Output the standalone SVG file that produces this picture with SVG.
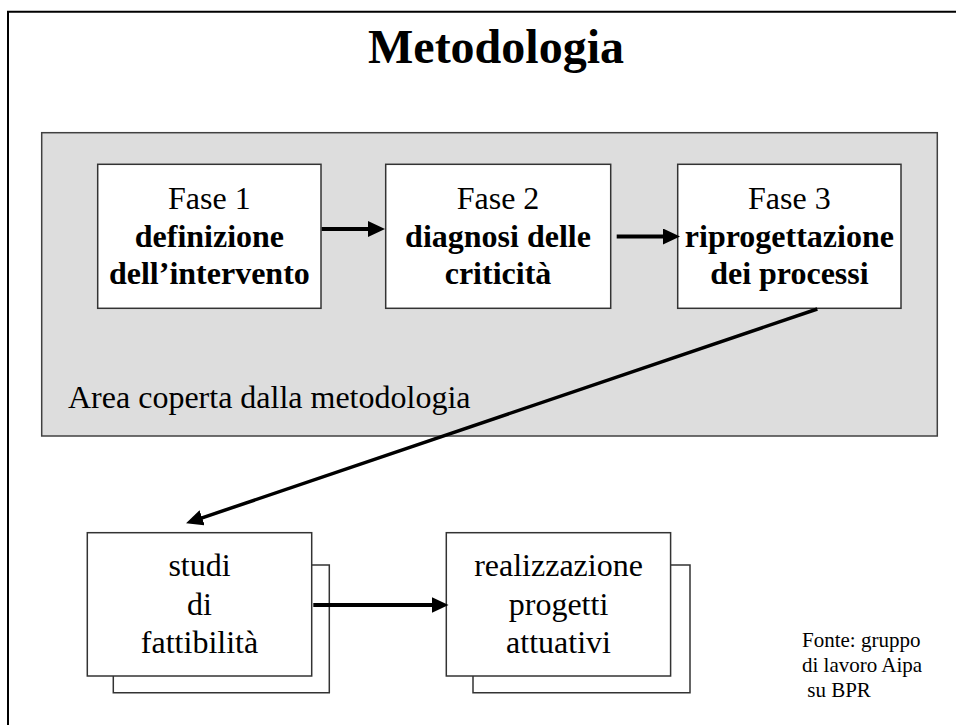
<svg xmlns="http://www.w3.org/2000/svg" width="956" height="725" viewBox="0 0 956 725">
<style>
.t{font-family:"Liberation Serif","Times New Roman",serif;fill:#000;text-anchor:middle}
.r{font-size:32px}
.b{font-size:32px;font-weight:bold}
.box{fill:#fff;stroke:#333;stroke-width:1.5}
.sh{fill:none;stroke:#333;stroke-width:1.5}
.con{stroke:#000;stroke-width:4;fill:none;marker-end:url(#ah)}
.f{font-size:21px;text-anchor:start;white-space:pre}
</style>
<defs>
<marker id="ah" markerUnits="userSpaceOnUse" viewBox="0 0 17 16" markerWidth="17" markerHeight="16" refX="7" refY="8" orient="auto">
<path d="M0,0 L17,8 L0,16 z" fill="#000"/>
</marker>
</defs>
<rect width="956" height="725" fill="#fff"/>
<path d="M8,725 V11.7 H956" fill="none" stroke="#000" stroke-width="2"/>
<text class="t" x="496" y="63" style="font-size:48px;font-weight:bold">Metodologia</text>

<g id="area">
<rect x="41.7" y="132.7" width="895.6" height="303.3" fill="#dddddd" stroke="#404040" stroke-width="1.5"/>
<text class="t r" x="68" y="408" style="text-anchor:start">Area coperta dalla metodologia</text>
</g>

<g id="fase1">
<rect class="box" x="97.7" y="164.3" width="223.3" height="144"/>
<text class="t r" x="209.4" y="209">Fase 1</text>
<text class="t b" x="209.4" y="246.5">definizione</text>
<text class="t b" x="209.4" y="284">dell’intervento</text>
</g>
<g id="fase2">
<rect class="box" x="385.7" y="164.3" width="225" height="144"/>
<text class="t r" x="498" y="209">Fase 2</text>
<text class="t b" x="498" y="246.5">diagnosi delle</text>
<text class="t b" x="498" y="284">criticità</text>
</g>
<g id="fase3">
<rect class="box" x="677.7" y="164.3" width="223.3" height="144"/>
<text class="t r" x="789.4" y="209">Fase 3</text>
<text class="t b" x="789.4" y="246.5">riprogettazione</text>
<text class="t b" x="789.4" y="284">dei processi</text>
</g>

<g id="studi">
<polyline class="sh" points="311.7,565 329.3,565 329.3,692.7 113.3,692.7 113.3,676"/>
<rect class="box" x="87.3" y="532.7" width="224.4" height="143.3"/>
<text class="t r" x="199.5" y="576">studi</text>
<text class="t r" x="199.5" y="615">di</text>
<text class="t r" x="199.5" y="653.3">fattibilità</text>
</g>
<g id="realizzazione">
<polyline class="sh" points="670.6,565 690,565 690,692.7 473,692.7 473,676"/>
<rect class="box" x="446.3" y="532.7" width="224.3" height="143.3"/>
<text class="t r" x="558.5" y="576">realizzazione</text>
<text class="t r" x="558.5" y="615">progetti</text>
<text class="t r" x="558.5" y="653.3">attuativi</text>
</g>

<g id="fonte">
<text class="t f" x="802" y="647">Fonte: gruppo</text>
<text class="t f" x="802" y="672">di lavoro Aipa</text>
<text class="t f" x="802" y="697" xml:space="preserve"> su BPR</text>
</g>

<g id="connectors">
<line class="con" x1="321.7" y1="229" x2="375" y2="229"/>
<line class="con" x1="616.7" y1="236.5" x2="670" y2="236.5"/>
<line class="con" x1="817.3" y1="309" x2="195.5" y2="520.1" style="stroke-width:3.5"/>
<line class="con" x1="313.3" y1="605" x2="438.5" y2="605"/>
</g>
</svg>
